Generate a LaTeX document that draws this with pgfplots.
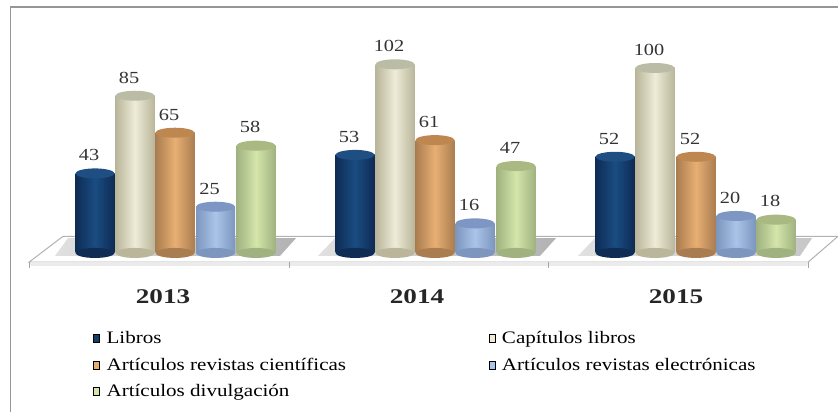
\documentclass[border=0pt]{standalone}
\usepackage{pgfplots}
\pgfplotsset{compat=1.18}
\usepackage{fontspec}
\setmainfont{Liberation Serif}
\newfontfamily\wide[FakeStretch=1.2]{Liberation Serif}
\newfontfamily\widebf[FakeStretch=1.3]{Liberation Serif Bold}
\definecolor{frameC}{RGB}{150,150,150}
\definecolor{cA}{RGB}{26,76,130}\definecolor{cAe}{RGB}{14,44,84}\definecolor{cAt}{RGB}{30,78,130}
\definecolor{cB}{RGB}{238,235,215}\definecolor{cBe}{RGB}{185,182,155}\definecolor{cBt}{RGB}{186,188,165}
\definecolor{cC}{RGB}{232,175,115}\definecolor{cCe}{RGB}{170,125,80}\definecolor{cCt}{RGB}{190,135,80}
\definecolor{cD}{RGB}{170,195,232}\definecolor{cDe}{RGB}{125,150,190}\definecolor{cDt}{RGB}{125,150,195}
\definecolor{cE}{RGB}{212,230,170}\definecolor{cEe}{RGB}{160,178,128}\definecolor{cEt}{RGB}{170,185,130}
\pgfdeclareplotmark{cyl}{\pgfpathellipse{\pgfpointorigin}{\pgfqpoint{19.5bp}{0bp}}{\pgfqpoint{0bp}{5bp}}\pgfusepathqfill}
\newcommand{\cyl}[5]{%
 \addplot[only marks,mark=cyl,color=#3,forget plot] coordinates {#4};
 \addplot[ybar,bar shift=0pt,bar width=39,draw=none,left color=#3,right color=#3,middle color=#2,area legend,
   forget plot] coordinates {#1};
 \addplot[only marks,mark=cyl,color=#5,forget plot,nodes near coords,point meta=explicit symbolic,
   every node near coord/.style={font=\wide\fontsize{17}{17}\selectfont,text=black!80,anchor=south,yshift=9bp,xshift=-6bp}]
   coordinates {#1};
}
\pgfplotsset{sw/.style={legend image code/.code={\fill[##1] (0bp,-4bp) rectangle (6bp,4bp);}}}
\begin{document}
\begin{tikzpicture}[x=1bp,y=1bp]
\path[use as bounding box] (0,0) rectangle (838,-412);
\begin{axis}[
  name=ax, at={(0,0)}, anchor=north west,
  scale only axis, width=838bp, height=412bp,
  xmin=0,xmax=838, ymin=-86,ymax=136.76,
  axis lines=none, clip=false,
  legend style={at={(axis cs:90,-60.5)},anchor=west,draw=none,fill=none,font=\wide\fontsize{17.6}{17.6}\selectfont,
     legend columns=2,row sep=9bp,/tikz/every odd column/.style={column sep=5bp}},
  legend cell align=left,
]
% frame
\addplot[draw=frameC,line width=1.2pt,forget plot] coordinates {(10.5,-86) (10.5,133) (838,133)};
% floor
\addplot[draw=black!30,line width=1pt,fill=white,forget plot] coordinates {(63,9) (838,9) (808,-5) (29,-5) (63,9)};
\addplot[draw=none,fill=black!8,forget plot] coordinates {(29,-5) (808,-5) (807,-7) (31,-7)};
\addplot[draw=black!35,line width=.8pt,forget plot] coordinates {(29,-5) (29,-8)};
\addplot[draw=black!35,line width=.8pt,forget plot] coordinates {(289,-5) (289,-8)};
\addplot[draw=black!35,line width=.8pt,forget plot] coordinates {(548,-5) (548,-8)};
\addplot[draw=black!35,line width=.8pt,forget plot] coordinates {(808,-5) (808,-8)};
% shadows
\addplot[draw=none,left color=black!12,right color=black!30,forget plot] coordinates {(55,-1.6) (280,-1.6) (296,8) (68,8)};
\addplot[draw=none,left color=black!12,right color=black!30,forget plot] coordinates {(318,-1.6) (540,-1.6) (556,8) (335,8)};
\addplot[draw=none,left color=black!12,right color=black!22,forget plot] coordinates {(578,-1.6) (800,-1.6) (812,8) (595,8)};
% legend entries
\addlegendimage{sw,fill=cA!80!black}\addlegendentry{\makebox[380bp][l]{Libros}}
\addlegendimage{sw,fill=cB}\addlegendentry{Capítulos libros}
\addlegendimage{sw,fill=cC}\addlegendentry{Artículos revistas científicas}
\addlegendimage{sw,fill=cD}\addlegendentry{Artículos revistas electrónicas}
\addlegendimage{sw,fill=cE}\addlegendentry{Artículos divulgación}
% series, back to front
\cyl{(215.5,25)[25]}{cD}{cDe}{(215.5,0)}{cDt}
\cyl{(475,16)[16]}{cD}{cDe}{(475,0)}{cDt}
\cyl{(736,20)[20]}{cD}{cDe}{(736,0)}{cDt}
\cyl{(175,65)[65]}{cC}{cCe}{(175,0)}{cCt}
\cyl{(435,61)[61]}{cC}{cCe}{(435,0)}{cCt}
\cyl{(696,52)[52]}{cC}{cCe}{(696,0)}{cCt}
\cyl{(256,58)[58]}{cE}{cEe}{(256,0)}{cEt}
\cyl{(516,47)[47]}{cE}{cEe}{(516,0)}{cEt}
\cyl{(776,18)[18]}{cE}{cEe}{(776,0)}{cEt}
\cyl{(95,43)[43]}{cA}{cAe}{(95,0)}{cAt}
\cyl{(355,53)[53]}{cA}{cAe}{(355,0)}{cAt}
\cyl{(615,52)[52]}{cA}{cAe}{(615,0)}{cAt}
\cyl{(135,85)[85]}{cB}{cBe}{(135,0)}{cBt}
\cyl{(395,102)[102]}{cB}{cBe}{(395,0)}{cBt}
\cyl{(655,100)[100]}{cB}{cBe}{(655,0)}{cBt}
% category labels
\addplot[only marks,mark=none,forget plot,nodes near coords,point meta=explicit symbolic,
  every node near coord/.style={font=\widebf\fontsize{21}{21}\selectfont,anchor=center,text=black!85}]
  coordinates {(163,-23.5)[2013] (417,-23.5)[2014] (676,-23.5)[2015]};
\end{axis}
\end{tikzpicture}
\end{document}
